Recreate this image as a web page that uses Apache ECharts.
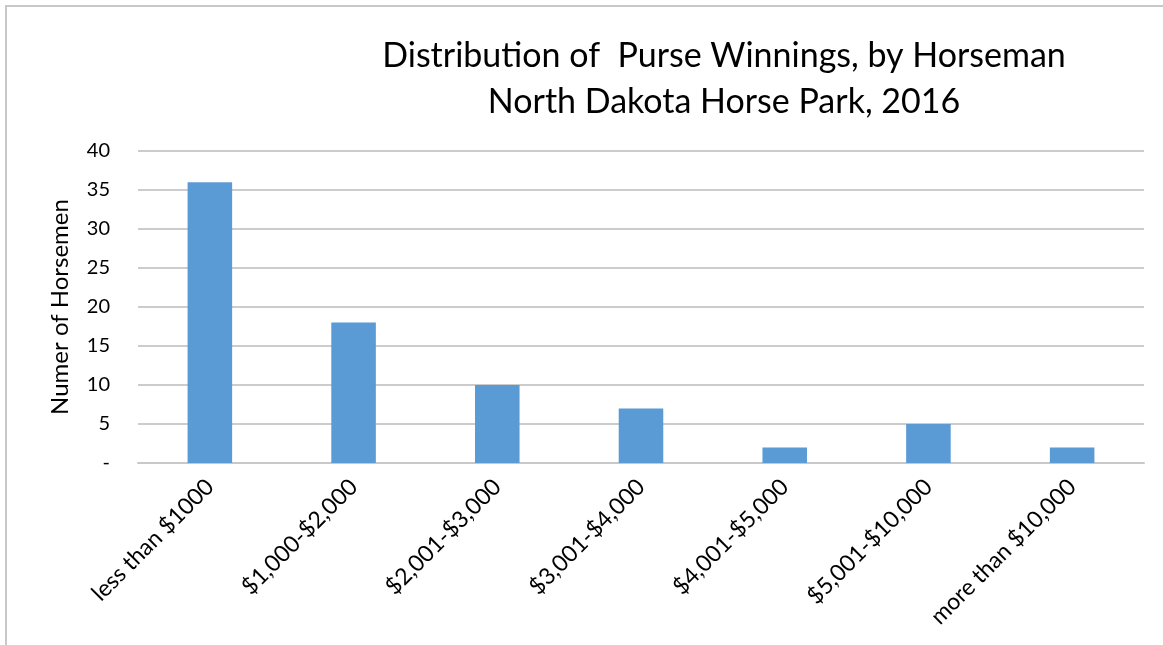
<!DOCTYPE html>
<html><head><meta charset="utf-8">
<script src="https://cdn.jsdelivr.net/npm/echarts@6/dist/echarts.min.js"></script>
<style>
html,body{margin:0;padding:0;background:#fff;}
#frame{position:absolute;left:5px;top:5px;width:1158px;height:640px;border-left:2px solid #c8c8c8;border-top:2px solid #c8c8c8;}
#chart{position:absolute;left:0;top:0;width:1163px;height:645px;}
</style></head>
<body>
<div id="frame"></div>
<div id="chart"></div>
<script>
const categories = ["less than $1000","$1,000-$2,000","$2,001-$3,000","$3,001-$4,000","$4,001-$5,000","$5,001-$10,000","more than $10,000"];
const horsemen = [36, 18, 10, 7, 2, 5, 2];
const titleLines = ["Distribution of  Purse Winnings, by Horseman", "North Dakota Horse Park, 2016"];
const yAxisName = "Numer of Horsemen";

const chart = echarts.init(document.getElementById('chart'));
const font = "Lato, sans-serif";
chart.setOption({
  backgroundColor: 'transparent',
  animation: false,
  title: {
    text: titleLines.join('\n'),
    left: 719, top: 28, textAlign: 'center',
    textStyle: {fontFamily: font, fontSize: 34, fontWeight: 'normal', color: '#000', lineHeight: 46}
  },
  grid: {left: 138, right: 19, top: 151, bottom: 182, containLabel: false},
  xAxis: {
    type: 'category', data: categories,
    axisLine: {show: true, lineStyle: {color: '#c8c8c8', width: 2}},
    axisTick: {show: false},
    axisLabel: {rotate: 45, interval: 0, fontFamily: font, fontSize: 23, color: '#000', margin: 20}
  },
  yAxis: {
    type: 'value', min: 0, max: 40, interval: 5,
    name: yAxisName, nameLocation: 'middle', nameGap: 66, nameRotate: 90,
    nameTextStyle: {fontFamily: font, fontSize: 24, color: '#000'},
    axisLine: {show: false}, axisTick: {show: false},
    axisLabel: {fontFamily: font, fontSize: 20, color: '#000', margin: 28,
      formatter: v => v === 0 ? '-' : String(v)},
    splitLine: {lineStyle: {color: '#cccccc', width: 2}}
  },
  series: [{
    type: 'bar', data: horsemen, barWidth: '31%',
    itemStyle: {color: '#5b9bd5'}
  }]
});
</script>
</body></html>
